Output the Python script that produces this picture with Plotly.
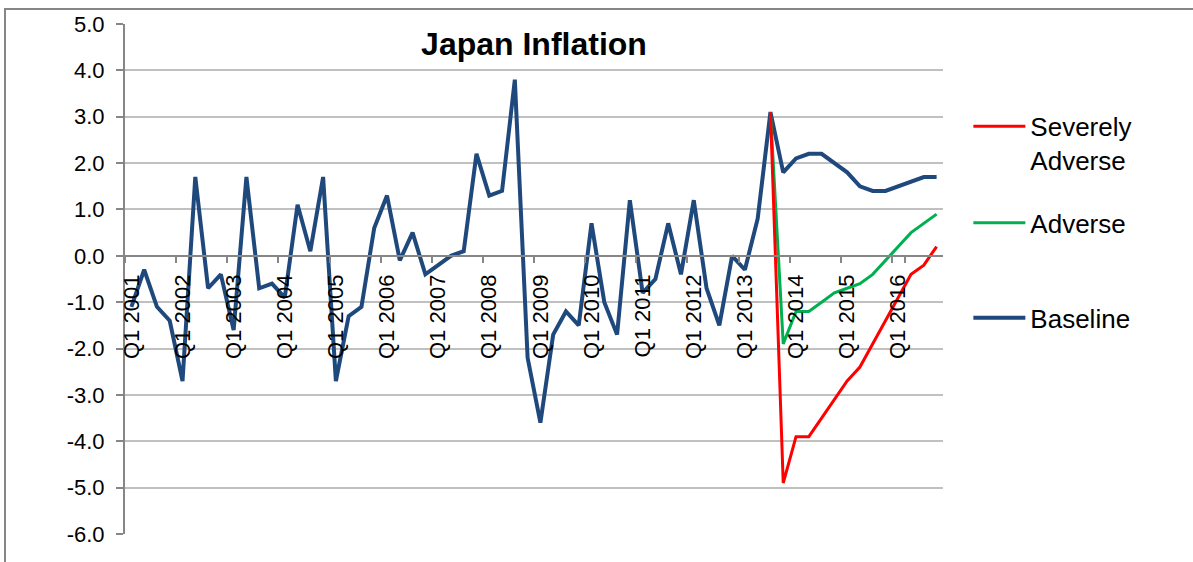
import plotly.graph_objects as go

# quarterly categories Q1 2001 .. Q4 2016
years = list(range(2001, 2017))
quarters = [f"Q{q} {y}" for y in years for q in range(1, 5)]
tick_labels = [f"Q1 {y}" for y in years]
y_ticks = list(range(-6, 6))
y_tick_text = [f"{v:.1f}" for v in y_ticks]  # plain hyphen minus like Excel

baseline = [-1.1, -0.3, -1.1, -1.4, -2.7, 1.7, -0.7, -0.4, -1.6, 1.7,
            -0.7, -0.6, -0.9, 1.1, 0.1, 1.7, -2.7, -1.3, -1.1, 0.6,
            1.3, -0.1, 0.5, -0.4, -0.2, 0.0, 0.1, 2.2, 1.3, 1.4,
            3.8, -2.2, -3.6, -1.7, -1.2, -1.5, 0.7, -1.0, -1.7, 1.2,
            -0.8, -0.5, 0.7, -0.4, 1.2, -0.7, -1.5, 0.0, -0.3, 0.8,
            3.1, 1.8, 2.1, 2.2, 2.2, 2.0, 1.8, 1.5, 1.4, 1.4,
            1.5, 1.6, 1.7, 1.7]
adverse = [None] * 50 + [3.1, -1.9, -1.2, -1.2, -1.0, -0.8, -0.7, -0.6,
                         -0.4, -0.1, 0.2, 0.5, 0.7, 0.9]
severely_adverse = [None] * 50 + [3.1, -4.9, -3.9, -3.9, -3.5, -3.1, -2.7, -2.4,
                                  -1.9, -1.4, -0.9, -0.4, -0.2, 0.2]

FONT = "Arial, Liberation Sans, sans-serif"
AXIS_GREY = "#868686"
GRID_GREY = "#C0C0C0"

fig = go.Figure()
fig.add_trace(go.Scatter(x=quarters, y=baseline, mode="lines", name="Baseline",
                         line=dict(color="#1F497D", width=4), legend="legend3"))
fig.add_trace(go.Scatter(x=quarters, y=adverse, mode="lines", name="Adverse",
                         line=dict(color="#00B050", width=3), legend="legend2"))
fig.add_trace(go.Scatter(x=quarters, y=severely_adverse, mode="lines",
                         name="Severely<br>Adverse",
                         line=dict(color="#FF0000", width=3), legend="legend"))

legend_style = dict(font=dict(family=FONT, size=26, color="black"),
                    bgcolor="rgba(0,0,0,0)", itemwidth=52, valign="top",
                    xanchor="left", yanchor="middle", x=1.031)

# the chart border (left/top visible, right and bottom fall outside the image)
fig.add_shape(type="rect", xref="paper", yref="paper",
              x0=-0.1467, x1=1.4, y0=-0.2, y1=1.0294,
              line=dict(color=AXIS_GREY, width=2), layer="below")

fig.update_layout(
    width=1193,
    height=562,
    margin=dict(l=125, r=250, t=24, b=28, autoexpand=False),
    paper_bgcolor="white",
    plot_bgcolor="white",
    font=dict(family=FONT, size=22, color="black"),
    title=dict(text="<b>Japan Inflation</b>", font=dict(family=FONT, size=32, color="black"),
               x=0.5, xref="paper", xanchor="center",
               y=1 - 44 / 562, yref="container", yanchor="middle"),
    showlegend=True,
    legend=dict(**legend_style, y=(534.3 - 128) / 510.3 - 0.03),
    legend2=dict(**legend_style, y=(534.3 - 223) / 510.3),
    legend3=dict(**legend_style, y=(534.3 - 318) / 510.3),
    xaxis=dict(
        type="category",
        categoryorder="array",
        categoryarray=quarters,
        range=[-0.5, len(quarters) - 0.5],
        tickmode="array",
        tickvals=tick_labels,
        ticktext=tick_labels,
        tickson="boundaries",
        tickangle=-90,
        ticks="outside",
        ticklen=6,
        tickcolor=AXIS_GREY,
        tickwidth=2,
        ticklabelstandoff=9,
        showline=True,
        linecolor=AXIS_GREY,
        linewidth=2,
        showgrid=False,
        anchor="free",
        position=6 / 11,
        automargin=False,
        tickfont=dict(family=FONT, size=22, color="black"),
    ),
    yaxis=dict(
        range=[-6, 5],
        tickmode="array",
        tickvals=y_ticks,
        ticktext=y_tick_text,
        ticks="outside",
        ticklen=7,
        tickcolor=AXIS_GREY,
        tickwidth=2,
        ticklabelstandoff=7,
        showline=True,
        linecolor=AXIS_GREY,
        linewidth=2,
        gridcolor=GRID_GREY,
        gridwidth=2,
        zeroline=False,
        automargin=False,
        tickfont=dict(family=FONT, size=22, color="black"),
    ),
)

# drop the page's default body margin so the figure sits at the window origin
fig.write_html("out.html", config={"displayModeBar": False},
               post_script="document.body.style.margin = '0';")
